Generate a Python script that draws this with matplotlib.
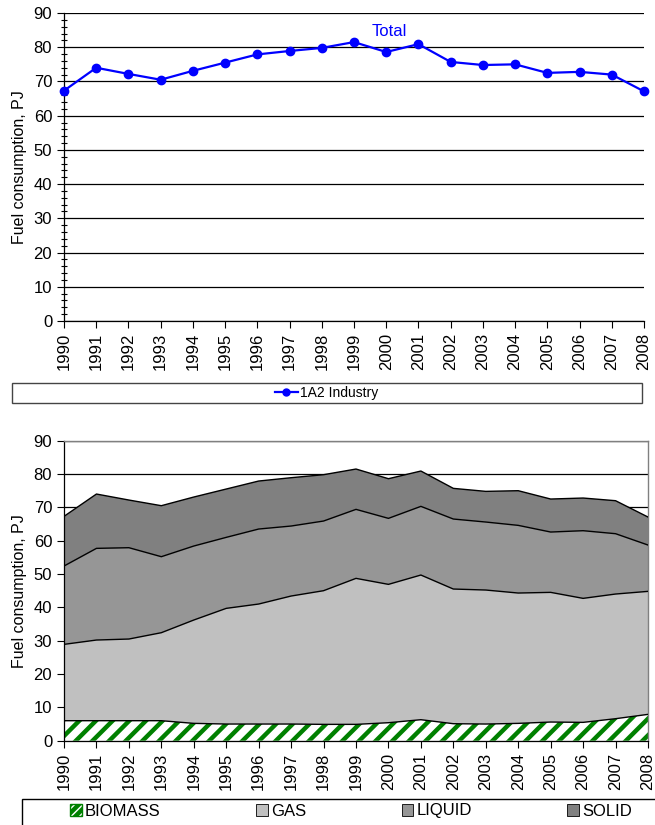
import numpy as np
import matplotlib.pyplot as plt
from matplotlib.lines import Line2D
from matplotlib.patches import Patch, Rectangle
from matplotlib.ticker import MultipleLocator

plt.rcParams['font.family'] = ['Liberation Sans', 'DejaVu Sans']
plt.rcParams['hatch.linewidth'] = 3.2

# data (PJ)
years = [str(y) for y in range(1990, 2009)]
total = [67.3, 74.0, 72.2, 70.5, 73.1, 75.5, 77.9, 78.9, 79.8, 81.5,
         78.6, 80.9, 75.7, 74.8, 75.0, 72.5, 72.8, 72.0, 67.1]
biomass = [6.0, 6.0, 6.0, 6.0, 5.2, 5.0, 5.0, 5.0, 4.9, 4.9,
           5.4, 6.3, 5.1, 5.0, 5.2, 5.6, 5.5, 6.6, 7.9]
gas = [22.9, 24.2, 24.5, 26.4, 31.0, 34.7, 36.0, 38.4, 40.1, 43.8,
       41.5, 43.4, 40.4, 40.2, 39.1, 38.9, 37.2, 37.4, 36.9]
liquid = [23.5, 27.5, 27.4, 22.8, 22.2, 21.3, 22.5, 21.0, 20.9, 20.7,
          19.8, 20.6, 21.0, 20.4, 20.3, 18.1, 20.3, 18.1, 13.9]
solid = [14.9, 16.3, 14.3, 15.3, 14.7, 14.5, 14.4, 14.5, 13.9, 12.1,
         11.9, 10.6, 9.2, 9.2, 10.4, 9.9, 9.8, 9.9, 8.4]

W, H = 655, 825
fig = plt.figure(figsize=(W / 100, H / 100), dpi=100)
x = np.arange(len(years))


def style_axis(ax, minor):
    ax.set_xlim(0, len(years) - 1)
    ax.set_ylim(0, 90)
    ax.yaxis.set_major_locator(MultipleLocator(10))
    if minor:
        ax.yaxis.set_minor_locator(MultipleLocator(2))
        ax.tick_params(axis='y', which='minor', direction='inout', length=5, width=0.8)
    ax.set_xticks(x)
    ax.set_xticklabels(years, rotation=90)
    ax.tick_params(axis='both', which='major', direction='out', length=5, width=0.8,
                   labelsize=12, colors='black')
    ax.grid(axis='y', color='black', linewidth=0.9)
    ax.set_axisbelow(True)
    ax.set_ylabel('Fuel consumption, PJ', fontsize=11.5, labelpad=5)
    for s in ['left', 'bottom']:
        ax.spines[s].set_color('black')
        ax.spines[s].set_linewidth(0.9)


# --- top: total line ---
ax1 = fig.add_axes([64 / W, 1 - 321 / H, 580 / W, 308 / H])
style_axis(ax1, True)
ax1.spines['top'].set_visible(False)
ax1.spines['right'].set_visible(False)
ax1.plot(x, total, color='#0000FF', lw=1.6, marker='o', ms=6, clip_on=False, zorder=3)
ax1.text(10.1, 84.7, 'Total', color='#0000FF', fontsize=12, ha='center', va='center')

fig.patches.append(Rectangle((12 / W, 1 - 403 / H), 630 / W, 20 / H, transform=fig.transFigure,
                             facecolor='white', edgecolor='#444444', lw=1.0))
h1 = [Line2D([], [], color='#0000FF', lw=1.6, marker='o', ms=5)]
fig.legend(h1, ['1A2 Industry'], loc='center', bbox_to_anchor=(327 / W, 1 - 393 / H),
           frameon=False, handlelength=1.6, handletextpad=0.2,
           prop={'family': ['Liberation Sans Narrow', 'Liberation Sans'], 'size': 10})

# --- bottom: stacked area ---
ax2 = fig.add_axes([64 / W, 1 - 740.7 / H, 584 / W, 300 / H])
style_axis(ax2, False)
for s in ['top', 'right']:
    ax2.spines[s].set_color('#808080')
    ax2.spines[s].set_linewidth(1.0)

b = np.array(biomass)
g = b + np.array(gas)
l = g + np.array(liquid)
t = l + np.array(solid)
ax2.fill_between(x, 0, b, facecolor='white', edgecolor='#008000', hatch='//', lw=0, zorder=2)
ax2.fill_between(x, b, g, facecolor='#C0C0C0', lw=0, zorder=2)
ax2.fill_between(x, g, l, facecolor='#969696', lw=0, zorder=2)
ax2.fill_between(x, l, t, facecolor='#808080', lw=0, zorder=2)
for top in [b, g, l, t]:
    ax2.plot(x, top, color='black', lw=1.0, zorder=3)

fig.patches.append(Rectangle((22 / W, 1 - 835 / H), 640 / W, 36 / H, transform=fig.transFigure,
                             facecolor='white', edgecolor='black', lw=1.0))
h2 = [Patch(facecolor='white', edgecolor='#008000', hatch='////'),
      Patch(facecolor='#C0C0C0', edgecolor='black', lw=0.6),
      Patch(facecolor='#969696', edgecolor='black', lw=0.6),
      Patch(facecolor='#808080', edgecolor='black', lw=0.6)]
fig.legend(h2, ['BIOMASS', 'GAS', 'LIQUID', 'SOLID'], loc='center left', ncol=4, mode='expand',
           bbox_to_anchor=(70 / W, 1 - 811 / H, 562 / W, 0.0), frameon=False,
           handlelength=0.7, handleheight=0.7, handletextpad=0.2, borderpad=0, borderaxespad=0,
           fontsize=12)

fig.savefig('out.png', dpi=100)
